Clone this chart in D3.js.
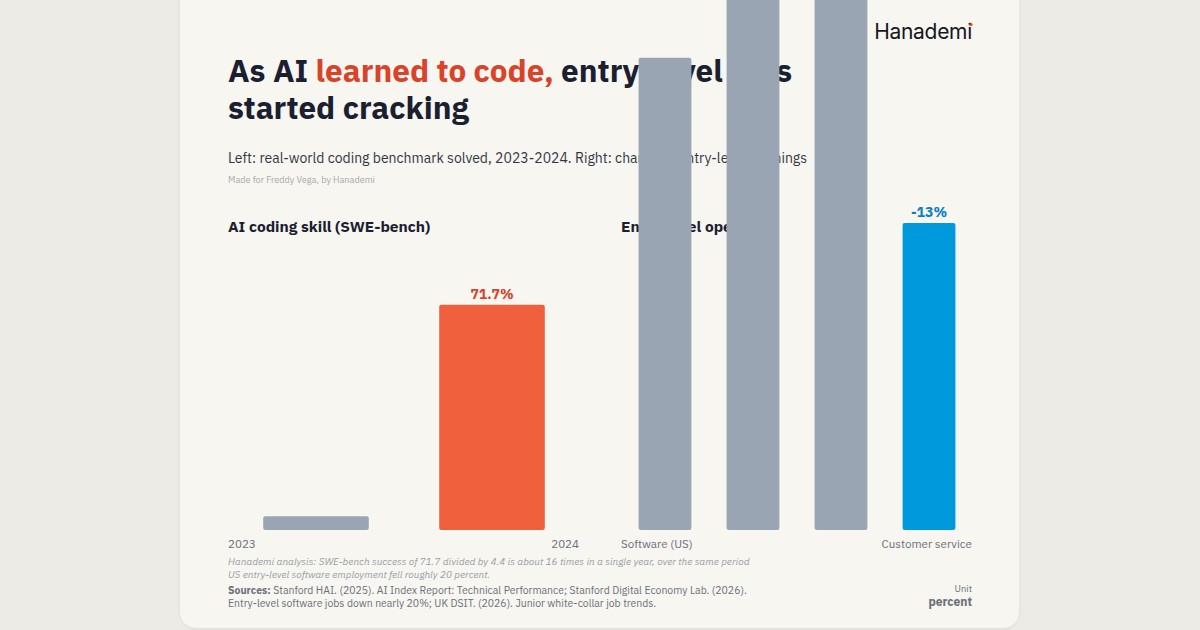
<!DOCTYPE html>
<html>
<head>
<meta charset="utf-8">
<script src="https://cdn.jsdelivr.net/npm/d3@7"></script>
<style>
  html, body { margin: 0; padding: 0; background: #ecebe6; }
  body { width: 1200px; height: 630px; overflow: hidden; font-family: "IBM Plex Sans", "Noto Sans", sans-serif; }
</style>
</head>
<body>
<div id="chart"></div>
<script>
// Left panel: SWE-bench success
const skillYears = ["2023", "2024"];
const skillValues = [4.4, 71.7];

// Right panel: change in entry-level openings
const jobCategories = ["Software (US)", "Software (UK)", "Junior white-collar (UK)", "Customer service"];
const jobValues = [-20, -25, -30, -13];

const width = 1200;
const height = 630;

const svg = d3.select("#chart")
    .append("svg")
    .attr("width", width)
    .attr("height", height)
    .style("overflow", "visible");

const defs = svg.append("defs");
const shadow = defs.append("filter").attr("id", "shadow")
    .attr("x", "-5%").attr("y", "-5%").attr("width", "110%").attr("height", "110%");
shadow.append("feDropShadow").attr("dx", 0).attr("dy", 1).attr("stdDeviation", 1.5)
    .attr("flood-color", "#000").attr("flood-opacity", 0.08);

// Card
svg.append("rect")
    .attr("x", 180).attr("y", -20)
    .attr("width", 839).attr("height", 648)
    .attr("rx", 16)
    .attr("fill", "#f7f6f1")
    .attr("filter", "url(#shadow)");

// Title
const title = svg.append("text")
    .attr("x", 228).attr("y", 82)
    .attr("font-size", 31.5).attr("font-weight", 700)
    .attr("fill", "#1b2030");
title.append("tspan").text("As AI ");
title.append("tspan").attr("fill", "#d8432a").text("learned to code,");
title.append("tspan").text(" entry-level jobs");
svg.append("text")
    .attr("x", 228).attr("y", 119)
    .attr("font-size", 31.5).attr("font-weight", 700)
    .attr("fill", "#1b2030")
    .text("started cracking");

svg.append("text")
    .attr("x", 228).attr("y", 163)
    .attr("font-size", 14.0).attr("fill", "#333844")
    .text("Left: real-world coding benchmark solved, 2023-2024. Right: change in entry-level openings");

svg.append("text")
    .attr("x", 228).attr("y", 183)
    .attr("font-size", 9.1).attr("fill", "#aaaaaa")
    .text("Made for Freddy Vega, by Hanademi");

// Logo
svg.append("text")
    .attr("x", 972).attr("y", 39)
    .attr("text-anchor", "end")
    .attr("font-family", "Inter, sans-serif")
    .attr("font-size", 21).attr("fill", "#15171c")
    .attr("letter-spacing", -0.3)
    .text("Hanademi");
svg.append("circle")
    .attr("cx", 971).attr("cy", 24.5).attr("r", 1.6)
    .attr("fill", "#e8452c");

// Panel titles
svg.append("text")
    .attr("x", 228).attr("y", 232)
    .attr("font-size", 15.5).attr("font-weight", 700).attr("fill", "#1b2030")
    .text("AI coding skill (SWE-bench)");
svg.append("text")
    .attr("x", 621).attr("y", 232)
    .attr("font-size", 15.5).attr("font-weight", 700).attr("fill", "#1b2030")
    .text("Entry-level openings");

const baseY = 530;
const topY = 216;

// Left panel
const xLeft = d3.scaleBand().domain(skillYears).range([228, 580]).paddingInner(0.4).paddingOuter(0.2);
const yLeft = d3.scaleLinear().domain([0, 100]).range([baseY, topY]);

svg.append("g").selectAll("rect")
    .data(skillValues)
    .join("rect")
    .attr("x", (d, i) => xLeft(skillYears[i]))
    .attr("y", d => yLeft(d))
    .attr("width", xLeft.bandwidth())
    .attr("height", d => baseY - yLeft(d))
    .attr("rx", 2)
    .attr("fill", (d, i) => i === skillValues.length - 1 ? "#f0603d" : "#9aa5b3");

const lastSkill = skillValues.length - 1;
svg.append("text")
    .attr("x", xLeft(skillYears[lastSkill]) + xLeft.bandwidth() / 2)
    .attr("y", yLeft(skillValues[lastSkill]) - 6)
    .attr("text-anchor", "middle")
    .attr("font-size", 14).attr("font-weight", 700).attr("fill", "#d8432a")
    .text(skillValues[lastSkill] + "%");

svg.append("text").attr("x", 228).attr("y", 548)
    .attr("font-size", 11.6).attr("fill", "#6b6f78")
    .text(skillYears[0]);
svg.append("text").attr("x", 579).attr("y", 548)
    .attr("text-anchor", "end")
    .attr("font-size", 11.6).attr("fill", "#6b6f78")
    .text(skillYears[lastSkill]);

// Right panel
const xRight = d3.scaleBand().domain(jobCategories).range([621, 973]).paddingInner(0.4).paddingOuter(0.2);
const yRight = d3.scaleLinear().domain([0, 13.3]).range([baseY, topY]);

svg.append("g").selectAll("rect")
    .data(jobValues)
    .join("rect")
    .attr("x", (d, i) => xRight(jobCategories[i]))
    .attr("y", d => yRight(Math.abs(d)))
    .attr("width", xRight.bandwidth())
    .attr("height", d => baseY - yRight(Math.abs(d)))
    .attr("rx", 2)
    .attr("fill", (d, i) => i === jobValues.length - 1 ? "#0099dc" : "#9aa5b3");

const lastJob = jobValues.length - 1;
svg.append("text")
    .attr("x", xRight(jobCategories[lastJob]) + xRight.bandwidth() / 2)
    .attr("y", yRight(Math.abs(jobValues[lastJob])) - 6)
    .attr("text-anchor", "middle")
    .attr("font-size", 14).attr("font-weight", 700).attr("fill", "#0a80c4")
    .text(jobValues[lastJob] + "%");

svg.append("text").attr("x", 621).attr("y", 548)
    .attr("font-size", 11.6).attr("fill", "#6b6f78")
    .text(jobCategories[0]);
svg.append("text").attr("x", 972).attr("y", 548)
    .attr("text-anchor", "end")
    .attr("font-size", 11.6).attr("fill", "#6b6f78")
    .text(jobCategories[lastJob]);

// Notes
const noteLines = [
    "Hanademi analysis: SWE-bench success of 71.7 divided by 4.4 is about 16 times in a single year, over the same period",
    "US entry-level software employment fell roughly 20 percent."
];
svg.append("g").selectAll("text")
    .data(noteLines)
    .join("text")
    .attr("x", 228).attr("y", (d, i) => 565 + i * 12.5)
    .attr("font-size", 10).attr("font-style", "italic").attr("fill", "#9a9da4")
    .text(d => d);

const src1 = svg.append("text")
    .attr("x", 228).attr("y", 594)
    .attr("font-size", 10.45).attr("fill", "#6b6f78");
src1.append("tspan").attr("font-weight", 700).text("Sources:");
src1.append("tspan").text(" Stanford HAI. (2025). AI Index Report: Technical Performance; Stanford Digital Economy Lab. (2026).");
svg.append("text")
    .attr("x", 228).attr("y", 607)
    .attr("font-size", 10.45).attr("fill", "#6b6f78")
    .text("Entry-level software jobs down nearly 20%; UK DSIT. (2026). Junior white-collar job trends.");

svg.append("text")
    .attr("x", 972).attr("y", 592)
    .attr("text-anchor", "end")
    .attr("font-size", 9.5).attr("fill", "#6b6f78")
    .text("Unit");
svg.append("text")
    .attr("x", 972).attr("y", 606)
    .attr("text-anchor", "end")
    .attr("font-size", 12).attr("font-weight", 700).attr("fill", "#6b6f78")
    .text("percent");
</script>
</body>
</html>
